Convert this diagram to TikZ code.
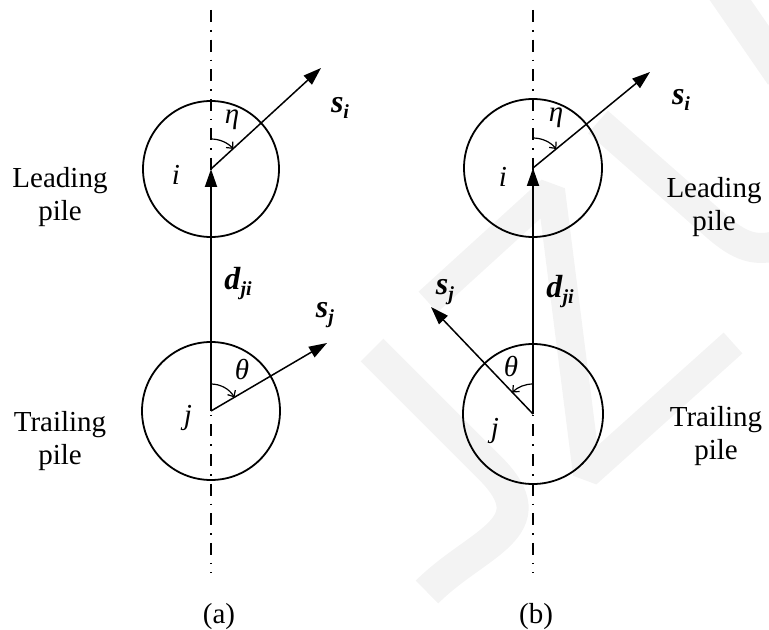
\documentclass[tikz,border=0pt]{standalone}
\usepackage{fontspec}
\setmainfont{Liberation Serif}
\usepackage{tikz}
\usetikzlibrary{arrows.meta}
\definecolor{wmark}{RGB}{243,243,243}
\tikzset{
    axisline/.style={line width=0.7pt,dash pattern=on 6pt off 4pt on 0.8pt off 4pt},
    pile/.style={line width=0.9pt},
    vec/.style={-{Triangle[length=9pt,width=6pt]},line width=0.75pt},
    dvec/.style={vec,line width=0.95pt},
    turn/.style={-{Straight Barb[length=2.5pt,width=4.5pt]},line width=0.6pt},
    lbl/.style={font=\fontsize{14.5}{16.5}\selectfont,align=center,inner sep=0pt},
    wm/.style={draw=wmark,line width=15pt},
}
\newcommand{\vlab}[2]{{\fontsize{16}{16}\selectfont\textbf{\textit{#1}}}\raisebox{-0.45ex}{\fontsize{10}{10}\selectfont\textbf{\textit{#2}}}}

\begin{document}
\begin{tikzpicture}[x=0.5pt,y=-0.5pt]
\useasboundingbox (0,0) rectangle (769,630);
% watermark behind everything
\draw[wm,line width=16pt] (372,350) -- (490,468) .. controls (550,528) and (477,542) .. (427,592);
\draw[wm,line width=14pt,line join=bevel] (428,302) -- (551,190) -- (587,474) -- (733,343);
\draw[wm] (598,122) -- (715,225) .. controls (740,247) and (755,252) .. (780,245);
\draw[wm,line width=17pt] (722,-12) -- (782,75);

% (a)
\coordinate (topa) at (211,10);
\coordinate (bota) at (211,573);
\coordinate (ia)  at (211,169);
\coordinate (ja)  at (211,411);
\coordinate (sia) at (321,68);
\coordinate (sja) at (327,343);
\draw[axisline] (topa) -- (bota);
\draw[pile] (ia) circle[radius=68];
\draw[pile] (ja) circle[radius=69];
\draw[dvec] (ja) -- (ia);
\draw[vec] (ia) -- (sia);
\draw[vec] (ja) -- (sja);
\draw[turn] ([shift={(-90:30)}]ia) arc[start angle=-90,end angle=-42,radius=30];
\draw[turn] ([shift={(-90:27)}]ja) arc[start angle=-90,end angle=-30,radius=27];
\node[lbl] (lpa)  at (60,197)  {Leading\\pile};
\node[lbl] (tpa)  at (60,441)  {Trailing\\pile};
\node[lbl] (sila) at (340,108) {\vlab{s}{i}};
\node[lbl] (sjla) at (325,315) {\vlab{s}{j}};
\node[lbl] (dla)  at (238,284) {\vlab{d}{ji}};
\node[lbl] (eta)  at (232,120) {\textit{η}};
\node[lbl] (tha)  at (242,370) {\textit{θ}};
\node[lbl] (ila)  at (176,175) {\textit{i}};
\node[lbl] (jla)  at (188,418) {\textit{j}};
\node[lbl] (capa) at (219,617) {(a)};

% (b)
\coordinate (topb) at (533,10);
\coordinate (botb) at (533,573);
\coordinate (ib)  at (533,168);
\coordinate (jb)  at (533,414);
\coordinate (sib) at (650,72);
\coordinate (sjb) at (431,307);
\draw[axisline] (topb) -- (botb);
\draw[pile] (ib) circle[radius=69];
\draw[pile] (jb) circle[radius=70];
\draw[dvec] (jb) -- (ib);
\draw[vec] (ib) -- (sib);
\draw[vec] (jb) -- (sjb);
\draw[turn] ([shift={(-90:30)}]ib) arc[start angle=-90,end angle=-39,radius=30];
\draw[turn] ([shift={(-90:30)}]jb) arc[start angle=-90,end angle=-134,radius=30];
\node[lbl] (lpb)  at (714,207) {Leading\\pile};
\node[lbl] (tpb)  at (716,436) {Trailing\\pile};
\node[lbl] (silb) at (681,100) {\vlab{s}{i}};
\node[lbl] (sjlb) at (445,292) {\vlab{s}{j}};
\node[lbl] (dlb)  at (560,292) {\vlab{d}{ji}};
\node[lbl] (etb)  at (556,118) {\textit{η}};
\node[lbl] (thb)  at (511,367) {\textit{θ}};
\node[lbl] (ilb)  at (503,177) {\textit{i}};
\node[lbl] (jlb)  at (495,431) {\textit{j}};
\node[lbl] (capb) at (536,617) {(b)};
\end{tikzpicture}
\end{document}
